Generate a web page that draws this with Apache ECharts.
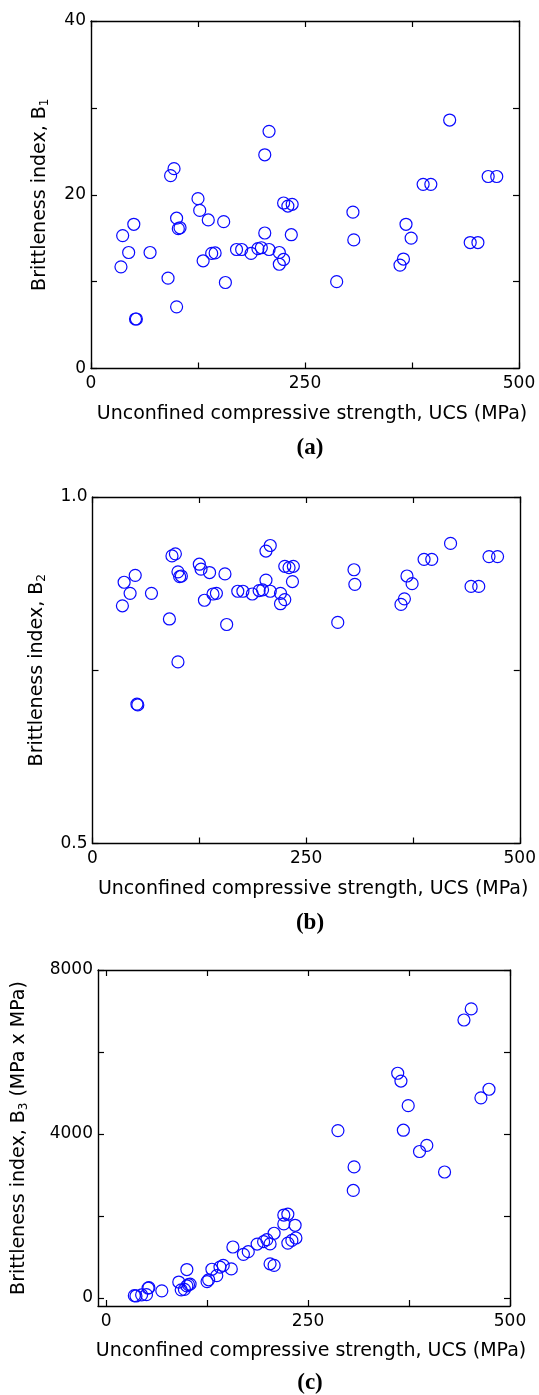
<!DOCTYPE html>
<html>
<head>
<meta charset="utf-8">
<script src="https://cdn.jsdelivr.net/npm/echarts@6/dist/echarts.min.js"></script>
<style>
  html, body { margin: 0; padding: 0; background: #fff; }
  #chart { width: 539px; height: 1395px; }
</style>
</head>
<body>
<div id="chart"></div>
<script>
// Unconfined compressive strength of each specimen (MPa)
const ucs = [35, 37, 44, 50, 52, 53, 69, 90, 93, 97,
             100, 100, 102, 104, 125, 127, 131, 137, 141, 145,
             155, 157, 170, 176, 187, 195, 199, 203, 203, 208,
             208, 220, 220, 225, 225, 230, 234, 235, 287, 306,
             307, 361, 365, 368, 374, 388, 397, 419, 443, 452,
             464, 474];

// Brittleness index B1
const b1 = [11.7, 15.3, 13.35, 16.6, 5.7, 5.7, 13.35, 10.4, 22.2, 23.0,
            17.3, 7.1, 16.1, 16.2, 19.55, 18.2, 12.4, 17.1, 13.25, 13.3,
            16.9, 9.9, 13.7, 13.7, 13.25, 13.8, 13.9, 15.6, 24.6, 13.7,
            27.3, 13.35, 12.0, 12.55, 19.05, 18.7, 15.4, 18.9, 10.0, 18.0,
            14.8, 11.9, 12.6, 16.6, 15.0, 21.2, 21.2, 28.6, 14.5, 14.5,
            22.1, 22.1];

// Brittleness index B2
const b2 = [0.843, 0.877, 0.861, 0.887, 0.701, 0.700, 0.861, 0.824, 0.915, 0.918,
            0.892, 0.762, 0.885, 0.886, 0.903, 0.896, 0.851, 0.891, 0.860, 0.861,
            0.889, 0.816, 0.864, 0.864, 0.860, 0.865, 0.866, 0.880, 0.922, 0.864,
            0.930, 0.861, 0.846, 0.852, 0.900, 0.898, 0.878, 0.900, 0.819, 0.895,
            0.874, 0.845, 0.853, 0.886, 0.875, 0.910, 0.910, 0.933, 0.871, 0.871,
            0.914, 0.914];

// Brittleness index B3 (MPa x MPa)
const b3 = [52, 45, 72, 76, 237, 248, 170, 385, 195, 205,
            290, 690, 320, 335, 395, 440, 697, 540, 750, 790,
            705, 1240, 1060, 1125, 1312, 1370, 1420, 1315, 830, 1575,
            790, 1803, 2020, 2040, 1335, 1400, 1770, 1460, 4080, 2620,
            3195, 5480, 5290, 4090, 4690, 3570, 3720, 3070, 6780, 7050,
            4880, 5090];

// Axis ticks and labels
const xTicks = [0, 125, 250, 375, 500];
const xLabels = [0, 250, 500];
const b1Ticks = [0, 10, 20, 30, 40];
const b1Labels = [0, 20, 40];
const b2Ticks = [0.5, 0.75, 1.0];
const b2Labels = [0.5, 1.0];
const b3Ticks = [0, 2000, 4000, 6000, 8000];
const b3Labels = [0, 4000, 8000];

const xTitle = 'Unconfined compressive strength, UCS (MPa)';
const panelTags = ['(a)', '(b)', '(c)'];

const SANS = 'DejaVu Sans';
const lineStyle = { color: '#000', width: 1.4 };

function boxAxis(dim, g, pos, range, ticks, labels, extra) {
  const ax = {
    type: 'value', gridIndex: g, position: pos,
    min: range[0], max: range[1],
    axisLine: { show: true, onZero: false, lineStyle },
    axisTick: { show: true, inside: true, length: 6, customValues: ticks,
                lineStyle: { color: '#000', width: 1.2 } },
    axisLabel: { show: !!labels, customValues: labels || undefined,
                 margin: dim === 'x' ? 7 : 5, color: '#000',
                 fontFamily: SANS, fontSize: 17,
                 formatter: v => String(v) },
    splitLine: { show: false }
  };
  return Object.assign(ax, extra || {});
}

function xName() {
  return {
    name: xTitle, nameLocation: 'middle', nameGap: 36,
    nameTextStyle: { fontFamily: SANS, fontSize: 19, color: '#000', padding: [0, 0, 0, 14] }
  };
}

function yName(text, gap) {
  return {
    name: text, nameLocation: 'middle', nameGap: gap,
    nameTextStyle: {
      fontFamily: SANS, fontSize: 19, color: '#000',
      rich: { sub: { fontFamily: SANS, fontSize: 12, color: '#000', padding: [9, 0, 0, 0] } }
    }
  };
}

const grids = [
  { left: 91, top: 21, width: 428, height: 347.5 },
  { left: 92.5, top: 497, width: 427.5, height: 346.5 },
  { left: 98, top: 970, width: 412, height: 336 }
];

const xRanges = [[0, 500], [0, 500], [-10, 500]];
const yRanges = [[0, 40], [0.5, 1.0], [-200, 8000]];
const yTickSets = [b1Ticks, b2Ticks, b3Ticks];
const yLabelSets = [b1Labels, b2Labels, b3Labels];
const yNames = [
  ['Brittleness index, B{sub|1}', 40],
  ['Brittleness index, B{sub|2}', 45],
  ['Brittleness index, B{sub|3} (MPa x MPa)', 68]
];
const ySeries = [b1, b2, b3];

const xAxis = [], yAxis = [], series = [];
for (let g = 0; g < 3; g++) {
  xAxis.push(boxAxis('x', g, 'bottom', xRanges[g], xTicks, xLabels, xName()));
  xAxis.push(boxAxis('x', g, 'top', xRanges[g], xTicks, null));
  const yLab = boxAxis('y', g, 'left', yRanges[g], yTickSets[g], yLabelSets[g],
                       yName(yNames[g][0], yNames[g][1]));
  if (g === 1) yLab.axisLabel.formatter = v => Number(v).toFixed(1);
  yAxis.push(yLab);
  yAxis.push(boxAxis('y', g, 'right', yRanges[g], yTickSets[g], null));
  series.push({
    type: 'scatter',
    xAxisIndex: 2 * g, yAxisIndex: 2 * g,
    symbol: 'circle', symbolSize: 12,
    itemStyle: { color: 'rgba(0,0,0,0)', borderColor: '#0a0aff', borderWidth: 1.2, opacity: 1 },
    emphasis: { disabled: true },
    data: ucs.map((u, i) => [u, ySeries[g][i]])
  });
}

const tagY = [448, 923, 1383];
const graphic = panelTags.map((t, i) => ({
  type: 'text', x: 310, y: tagY[i],
  style: { text: t, align: 'center', verticalAlign: 'middle',
           font: 'bold 23px "Liberation Serif"', fill: '#000' }
}));

const chart = echarts.init(document.getElementById('chart'), null, { renderer: 'canvas' });
chart.setOption({
  animation: false,
  backgroundColor: '#fff',
  grid: grids,
  xAxis, yAxis, series, graphic
});
</script>
</body>
</html>
